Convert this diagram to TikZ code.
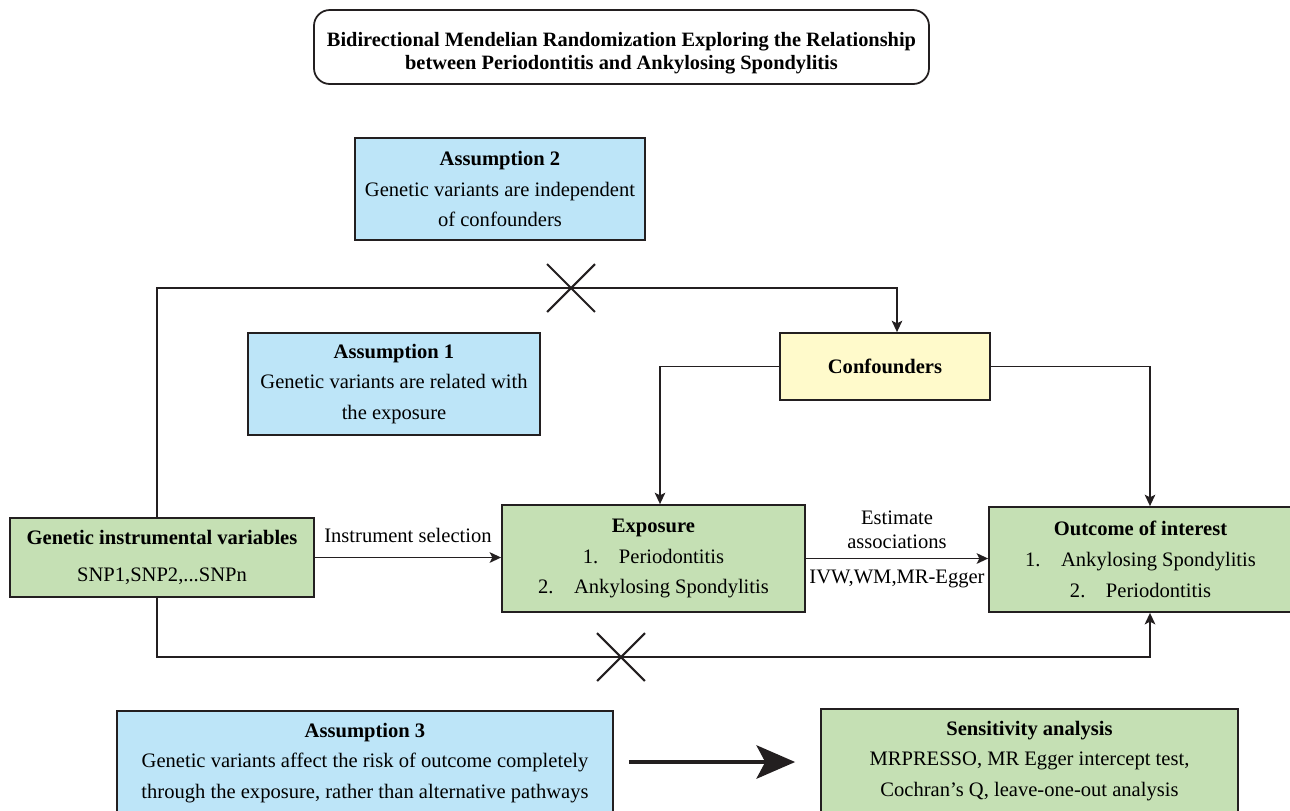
\documentclass[tikz,border=0pt]{standalone}
\usepackage{fontspec}
\setmainfont{Liberation Serif}
\usetikzlibrary{arrows.meta,shapes.misc}
\definecolor{linec}{HTML}{231F20}
\definecolor{bluef}{HTML}{BDE5F8}
\definecolor{greenf}{HTML}{C5E0B4}
\definecolor{yellowf}{HTML}{FFFACB}
\begin{document}
\begin{tikzpicture}[x=0.2mm,y=-0.2mm,
  box/.style={draw=linec, line width=1pt, rectangle, inner sep=0pt, align=center,
    font=\fontsize{11.7}{17.3}\selectfont},
  bluebox/.style={box, fill=bluef},
  greenbox/.style={box, fill=greenf},
  yellowbox/.style={box, fill=yellowf},
  conn/.style={draw=linec, line width=1.1pt},
  arr/.style={conn, -{Stealth[length=6.5pt,width=6pt,inset=1.5pt]}},
  bigarr/.style={draw=linec, line width=2pt, -{Stealth[length=22pt,width=19pt,inset=5pt]}},
  xmark/.style={cross out, draw=linec, line width=1.2pt, minimum size=26pt, inner sep=0pt},
  lbl/.style={font=\fontsize{11.7}{13.8}\selectfont, inner sep=1pt, align=center}]
\useasboundingbox (0,0) rectangle (1290,810);
\clip (0,0) rectangle (1290,810);

% boxes
\node[box, rounded corners=9pt, minimum width=123mm, minimum height=14.8mm,
  font=\bfseries\fontsize{11.6}{13}\selectfont] (title) at (621.5,47)
  {\rule{0pt}{15pt}Bidirectional Mendelian Randomization Exploring the Relationship\\between Periodontitis and Ankylosing Spondylitis};
\node[bluebox, minimum width=58mm, minimum height=20.4mm] (a2) at (500,189)
  {\textbf{Assumption 2}\\Genetic variants are independent\\of confounders};
\node[bluebox, minimum width=58.4mm, minimum height=20.4mm] (a1) at (394,384)
  {\textbf{Assumption 1}\\Genetic variants are related with\\the exposure};
\node[yellowbox, minimum width=42mm, minimum height=13.4mm] (conf) at (885,366.5)
  {\textbf{Confounders}};
\node[greenbox, minimum width=60.8mm, minimum height=15.8mm,
  font=\fontsize{11.7}{21.5}\selectfont] (gen) at (162,557.5)
  {\textbf{Genetic instrumental variables}\\SNP1,SNP2,...SNPn};
\node[greenbox, minimum width=60.6mm, minimum height=21.4mm,
  font=\fontsize{11.7}{17.5}\selectfont] (exp) at (653.5,558.5)
  {\textbf{Exposure}\\1.\hspace{1em}Periodontitis\\2.\hspace{1em}Ankylosing Spondylitis};
\node[greenbox, minimum width=60.6mm, minimum height=21mm,
  font=\fontsize{11.7}{17.5}\selectfont] (out) at (1140.5,559.5)
  {\textbf{Outcome of interest}\\1.\hspace{1em}Ankylosing Spondylitis\\2.\hspace{1em}Periodontitis};
\node[bluebox, minimum width=99.2mm, minimum height=20.8mm] (a3) at (365,763)
  {\textbf{Assumption 3}\\Genetic variants affect the risk of outcome completely\\through the exposure, rather than alternative pathways};
\node[greenbox, minimum width=83.4mm, minimum height=20.8mm] (sens) at (1029.5,761)
  {\textbf{Sensitivity analysis}\\MRPRESSO, MR Egger intercept test,\\Cochran’s Q, leave-one-out analysis};

% helper coordinates
\coordinate (gx) at (157,0);
\coordinate (topR) at (897,288);
\coordinate (botR) at (1150,657);
\coordinate (ex) at (660,0);
\coordinate (ox) at (1150,0);

% connectors
\draw[arr] (gen.north -| gx) |- (topR) -- (conf.north -| topR);
\draw[arr] (gen.south -| gx) |- (botR) -- (out.south -| botR);
\draw[arr] (conf.west) -| (exp.north -| ex);
\draw[arr] (conf.east) -| (out.north -| ox);
\draw[arr] (gen.east) -- (exp.west |- gen.east)
  node[lbl, midway, above=7pt] (lblsel) {Instrument selection};
\draw[arr] (exp.east) -- (out.west |- exp.east)
  node[lbl, midway, above=4pt] (lblest) {Estimate\\associations}
  node[lbl, midway, below=5pt] (lblivw) {IVW,WM,MR-Egger};
\draw[bigarr] ([xshift=3mm]a3.east |- 0,762) -- ([xshift=-5mm]sens.west |- 0,762);

% crosses
\node[xmark] (x1) at (571,288) {};
\node[xmark] (x2) at (621,657) {};
\end{tikzpicture}
\end{document}
